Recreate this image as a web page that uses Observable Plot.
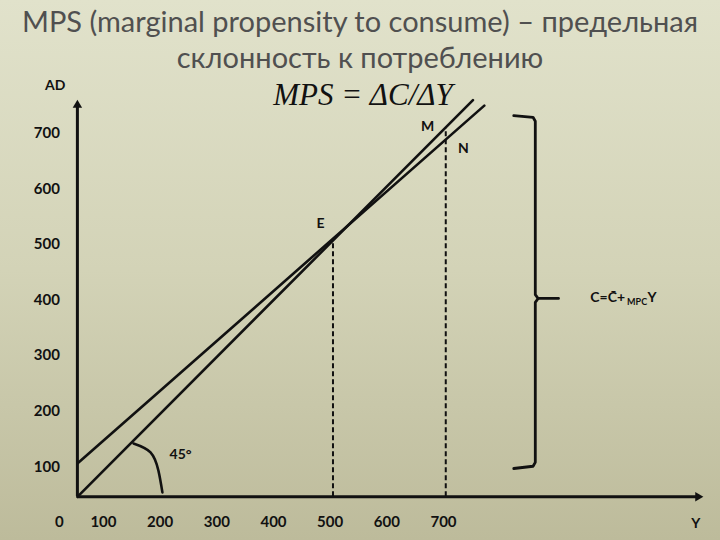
<!DOCTYPE html>
<html><head><meta charset="utf-8">
<script src="https://cdn.jsdelivr.net/npm/d3@7"></script>
<script src="https://cdn.jsdelivr.net/npm/@observablehq/plot@0.6"></script>
<style>
html,body{margin:0;padding:0;}
body{width:720px;height:540px;overflow:hidden;position:relative;
  background:linear-gradient(180deg,#e1e2cb 0%,#d3d3b7 50%,#bdbb9b 100%);
  font-family:Lato,"Open Sans",sans-serif;}
#title{position:absolute;left:0;top:3px;width:720px;text-align:center;color:#505050;font-size:29px;line-height:36px;}
#formula{position:absolute;left:263px;top:77px;width:200px;text-align:center;color:#111;
  font-family:"Liberation Serif",serif;font-style:italic;font-size:31px;}
#chart{position:absolute;left:0;top:0;}
</style></head>
<body>
<div id="title">MPS (marginal propensity to consume) – предельная<br>склонность к потреблению</div>
<div id="formula">MPS = ΔC/ΔY</div>
<div id="chart"></div>
<script>
// values (chart coordinates)
const tickValues = [100, 200, 300, 400, 500, 600, 700];
const zeroLabel = {x: 22, y: 0, text: "0"};
const axisOrigin = [54, 46];
const xAxisEnd = 1157;
const yAxisEnd = 759;
const line45 = [[54, 46], [752, 760]];
const consumptionLine = [[54, 106], [772, 750]];
const pointE = [505, 505];
const pointM = [704, 709];
const arc45 = [[153, 142], [183, 126], [197, 93], [204, 54]];
const braceTop = [[824, 732], [858, 729], [862, 722], [862, 410], [867, 403], [903, 403]];
const braceBottom = [[867, 403], [862, 396], [862, 108], [858, 101], [824, 97]];
const pointLabels = [
  {x: 672, y: 712, text: "M"},
  {x: 735, y: 673, text: "N"},
  {x: 483, y: 538, text: "E"},
  {x: 236, y: 122, text: "45°"},
  {x: 15, y: 786, text: "AD"},
  {x: 1145, y: -2, text: "Y"}
];
const formulaParts = [
  {x: 959, y: 404, text: "C=C\u0304+", size: 14},
  {x: 1024, y: 396, text: "MPC", size: 9},
  {x: 1060, y: 404, text: "Y", size: 14}
];

const ink = "#111";
const chart = Plot.plot({
  width: 720, height: 540, margin: 0,
  x: {domain: [-81.7, 1188.8], axis: null},
  y: {domain: [-32.6, 939.2], axis: null},
  style: {background: "transparent", fontFamily: "Lato, 'Open Sans', sans-serif", overflow: "visible"},
  marks: [
    Plot.ruleX([pointE], {x: d => d[0], y1: axisOrigin[1], y2: d => d[1], stroke: ink, strokeWidth: 2, strokeDasharray: "5,3"}),
    Plot.ruleX([pointM], {x: d => d[0], y1: axisOrigin[1], y2: d => d[1], stroke: ink, strokeWidth: 2, strokeDasharray: "5,3"}),
    Plot.line(line45, {x: d => d[0], y: d => d[1], stroke: ink, strokeWidth: 2.6}),
    Plot.line(consumptionLine, {x: d => d[0], y: d => d[1], stroke: ink, strokeWidth: 2.6}),
    Plot.line(arc45, {x: d => d[0], y: d => d[1], stroke: ink, strokeWidth: 2.6, curve: "natural"}),
    Plot.line(braceTop, {x: d => d[0], y: d => d[1], stroke: ink, strokeWidth: 2.8, strokeLinejoin: "round", curve: "linear"}),
    Plot.line(braceBottom, {x: d => d[0], y: d => d[1], stroke: ink, strokeWidth: 2.8, strokeLinejoin: "round", curve: "linear"}),
    Plot.ruleY([axisOrigin], {y: d => d[1], x1: d => d[0], x2: xAxisEnd - 8, stroke: ink, strokeWidth: 3}),
    Plot.ruleX([axisOrigin], {x: d => d[0], y1: d => d[1], y2: yAxisEnd - 8, stroke: ink, strokeWidth: 3}),
    Plot.dot([[xAxisEnd - 8, axisOrigin[1]]], {x: d => d[0], y: d => d[1], symbol: "triangle2", r: 4.5, fill: ink, stroke: "none", rotate: 90}),
    Plot.dot([[axisOrigin[0], yAxisEnd - 8]], {x: d => d[0], y: d => d[1], symbol: "triangle2", r: 4.5, fill: ink, stroke: "none", rotate: 0}),
    Plot.text(tickValues, {x: d => d, y: 0, text: d => String(d), fill: ink, fontSize: 15, fontWeight: "bold"}),
    Plot.text(tickValues, {x: 0, y: d => d, text: d => String(d), fill: ink, fontSize: 15, fontWeight: "bold"}),
    Plot.text([zeroLabel], {x: "x", y: "y", text: "text", fill: ink, fontSize: 15, fontWeight: "bold"}),
    Plot.text(pointLabels, {x: "x", y: "y", text: "text", fill: ink, fontSize: 14, fontWeight: "bold"}),
    Plot.text(formulaParts, {x: "x", y: "y", text: "text", fill: ink, fontSize: d => d.size, fontWeight: "bold", textAnchor: "start"})
  ]
});
document.getElementById("chart").append(chart);
</script>
</body></html>
